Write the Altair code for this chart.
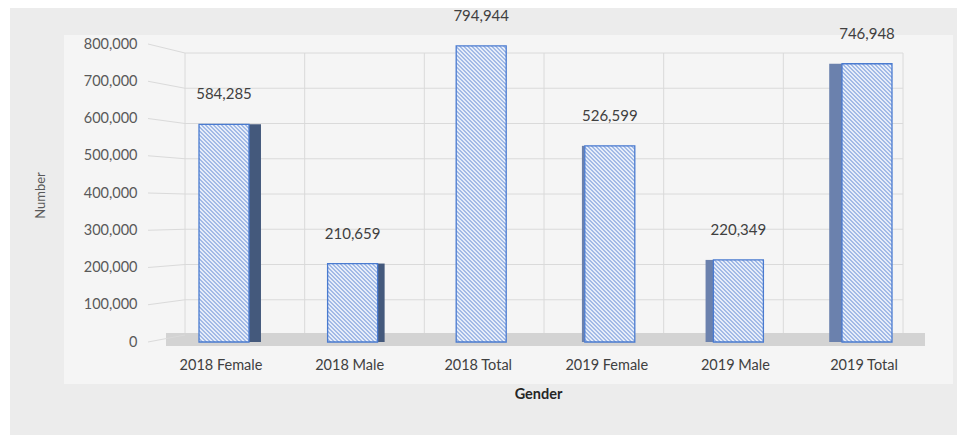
import altair as alt
import pandas as pd

# ---- data ----
categories = ["2018 Female", "2018 Male", "2018 Total", "2019 Female", "2019 Male", "2019 Total"]
values = [584285, 210659, 794944, 526599, 220349, 746948]
y_ticks = [0, 100000, 200000, 300000, 400000, 500000, 600000, 700000, 800000]

df = pd.DataFrame({"Gender": categories, "Number": values})

# ---- layout / style constants ----
W_PLOT, H_PLOT = 791, 298
Y_MAX = 800000
BAR_W = 50
PAD_OUTER = 0.0755
FONT = "Lato"
STEP = W_PLOT / (len(categories) + 2 * PAD_OUTER)
VP_X, PERSP_K = 385, 0.0385          # vanishing point (plot coords) and depth factor

x_scale = alt.Scale(domain=categories, paddingInner=0, paddingOuter=PAD_OUTER)
y_scale = alt.Scale(domain=[0, Y_MAX], nice=False, zero=True)

y_axis = alt.Axis(values=y_ticks, format=",.0f", labelFont=FONT, labelFontSize=14.5,
                  labelColor="#595959", labelPadding=13, domain=False, ticks=False,
                  grid=False, title="Number", titleFont=FONT, titleFontSize=13,
                  titleFontWeight="normal", titleColor="#595959", titleX=-110,
                  titleY=151, titleAlign="center", titleBaseline="middle", zindex=2)
x_axis = alt.Axis(labelFont=FONT, labelFontSize=14.5, labelColor="#404040",
                  labelPadding=16, labelAngle=0, labelOffset=-3, domain=False,
                  ticks=False, grid=False, title="Gender", titleFont=FONT,
                  titleFontSize=14.5, titleFontWeight="bold", titleColor="#262626",
                  titleX=388, titleY=52, titleAlign="center", titleBaseline="middle",
                  zindex=2)

X = alt.X("Gender:N", scale=x_scale, axis=x_axis, sort=categories)
Y = alt.Y("Number:Q", scale=y_scale, axis=y_axis)

one = pd.DataFrame({"k": [0]})


def rect(x1, x2, y1, y2, color):
    return alt.Chart(one).mark_rect(color=color).encode(
        x=alt.value(x1), x2=alt.value(x2), y=alt.value(y1), y2=alt.value(y2))


def hatch(h, w=BAR_W, period=4.0, c1="#e6edf9", c2="#a2bae6", frac=0.5):
    L = w + h
    n = L / period
    d = w * w + h * h
    x2 = w * (w + h) / d
    y2 = 1 - h * (w + h) / d
    stops = []
    k = 0
    while k < n:
        a = k / n
        b = min((k + frac) / n, 1.0)
        c = min((k + 1) / n, 1.0)
        stops += [{"offset": a, "color": c1}, {"offset": b, "color": c1},
                  {"offset": b, "color": c2}, {"offset": c, "color": c2}]
        k += 1
    return {"gradient": "linear", "x1": 0, "y1": 1, "x2": x2, "y2": y2, "stops": stops}


# ---- backgrounds ----
bg_outer = rect(-140, 807, -36, 391, "#ececec")
bg_inner = rect(-86, 803, -9, 340, "#f5f5f5")

# ---- back wall grid ----
WALL_L, WALL_R, WALL_T, WALL_B = 35, 753, 9, 291
hgrid = alt.Chart(pd.DataFrame({"v": y_ticks})).mark_rule(color="#dadada", strokeWidth=1).encode(
    y=alt.Y("v:Q", scale=alt.Scale(domain=[0, Y_MAX], range=[WALL_B, WALL_T], nice=False), axis=None),
    x=alt.value(WALL_L), x2=alt.value(WALL_R))
vgrid = alt.Chart(pd.DataFrame({"i": list(range(len(categories) + 1))})).mark_rule(
    color="#dadada", strokeWidth=1).encode(
    x=alt.X("i:Q", scale=alt.Scale(domain=[0, len(categories)], range=[WALL_L, WALL_R], nice=False), axis=None),
    y=alt.value(WALL_T), y2=alt.value(WALL_B))
wall = alt.layer(hgrid, vgrid)

floor = rect(16, 775, 289, 302, "#d3d3d3")

# ---- connectors from labels to wall ----
conn_df = pd.DataFrame({"v": y_ticks})
conn_df["v2"] = [Y_MAX - (WALL_T + (Y_MAX - v) / Y_MAX * (WALL_B - WALL_T)) * Y_MAX / H_PLOT for v in y_ticks]
connectors = alt.Chart(conn_df).mark_rule(color="#dadada").encode(
    y=alt.Y("v:Q", scale=y_scale, axis=y_axis), y2="v2:Q",
    x=alt.value(-2), x2=alt.value(WALL_L))

# ---- bars ----
layers = [connectors]
fronts = []
for i, (cat, val) in enumerate(zip(categories, values)):
    center = STEP * (PAD_OUTER + i + 0.5)
    side = PERSP_K * (VP_X - center)
    h = val / Y_MAX * H_PLOT
    base = alt.Chart(df).transform_filter(alt.datum.Gender == cat)
    if abs(side) >= 2.5:
        sw = abs(side)
        sgn = 1 if side > 0 else -1
        layers.append(base.mark_bar(
            size=sw, color="#44597c" if sgn > 0 else "#6b81ad",
            xOffset=sgn * (BAR_W / 2 + sw / 2)).encode(x=X, y=Y))
    fronts.append(base.mark_bar(
        size=BAR_W, fill=hatch(h), stroke="#4a7bd0", strokeWidth=1.3).encode(x=X, y=Y))

labels = alt.Chart(df).mark_text(dy=-30, fontSize=15, font=FONT, color="#404040",
                                 baseline="middle").encode(
    x=X, y=Y, text=alt.Text("Number:Q", format=",.0f"))

main = alt.layer(*layers, *fronts, labels)

chart = alt.layer(bg_outer, bg_inner, wall, floor, main).resolve_scale(
    x="independent", y="independent"
).properties(
    width=W_PLOT, height=H_PLOT,
    padding={"left": 150, "top": 44, "right": 29, "bottom": 95},
    autosize=alt.AutoSizeParams(type="none"),
    background="#ffffff",
).configure_view(stroke=None)

chart.save("out.html", embed_options={"renderer": "svg", "actions": False})
